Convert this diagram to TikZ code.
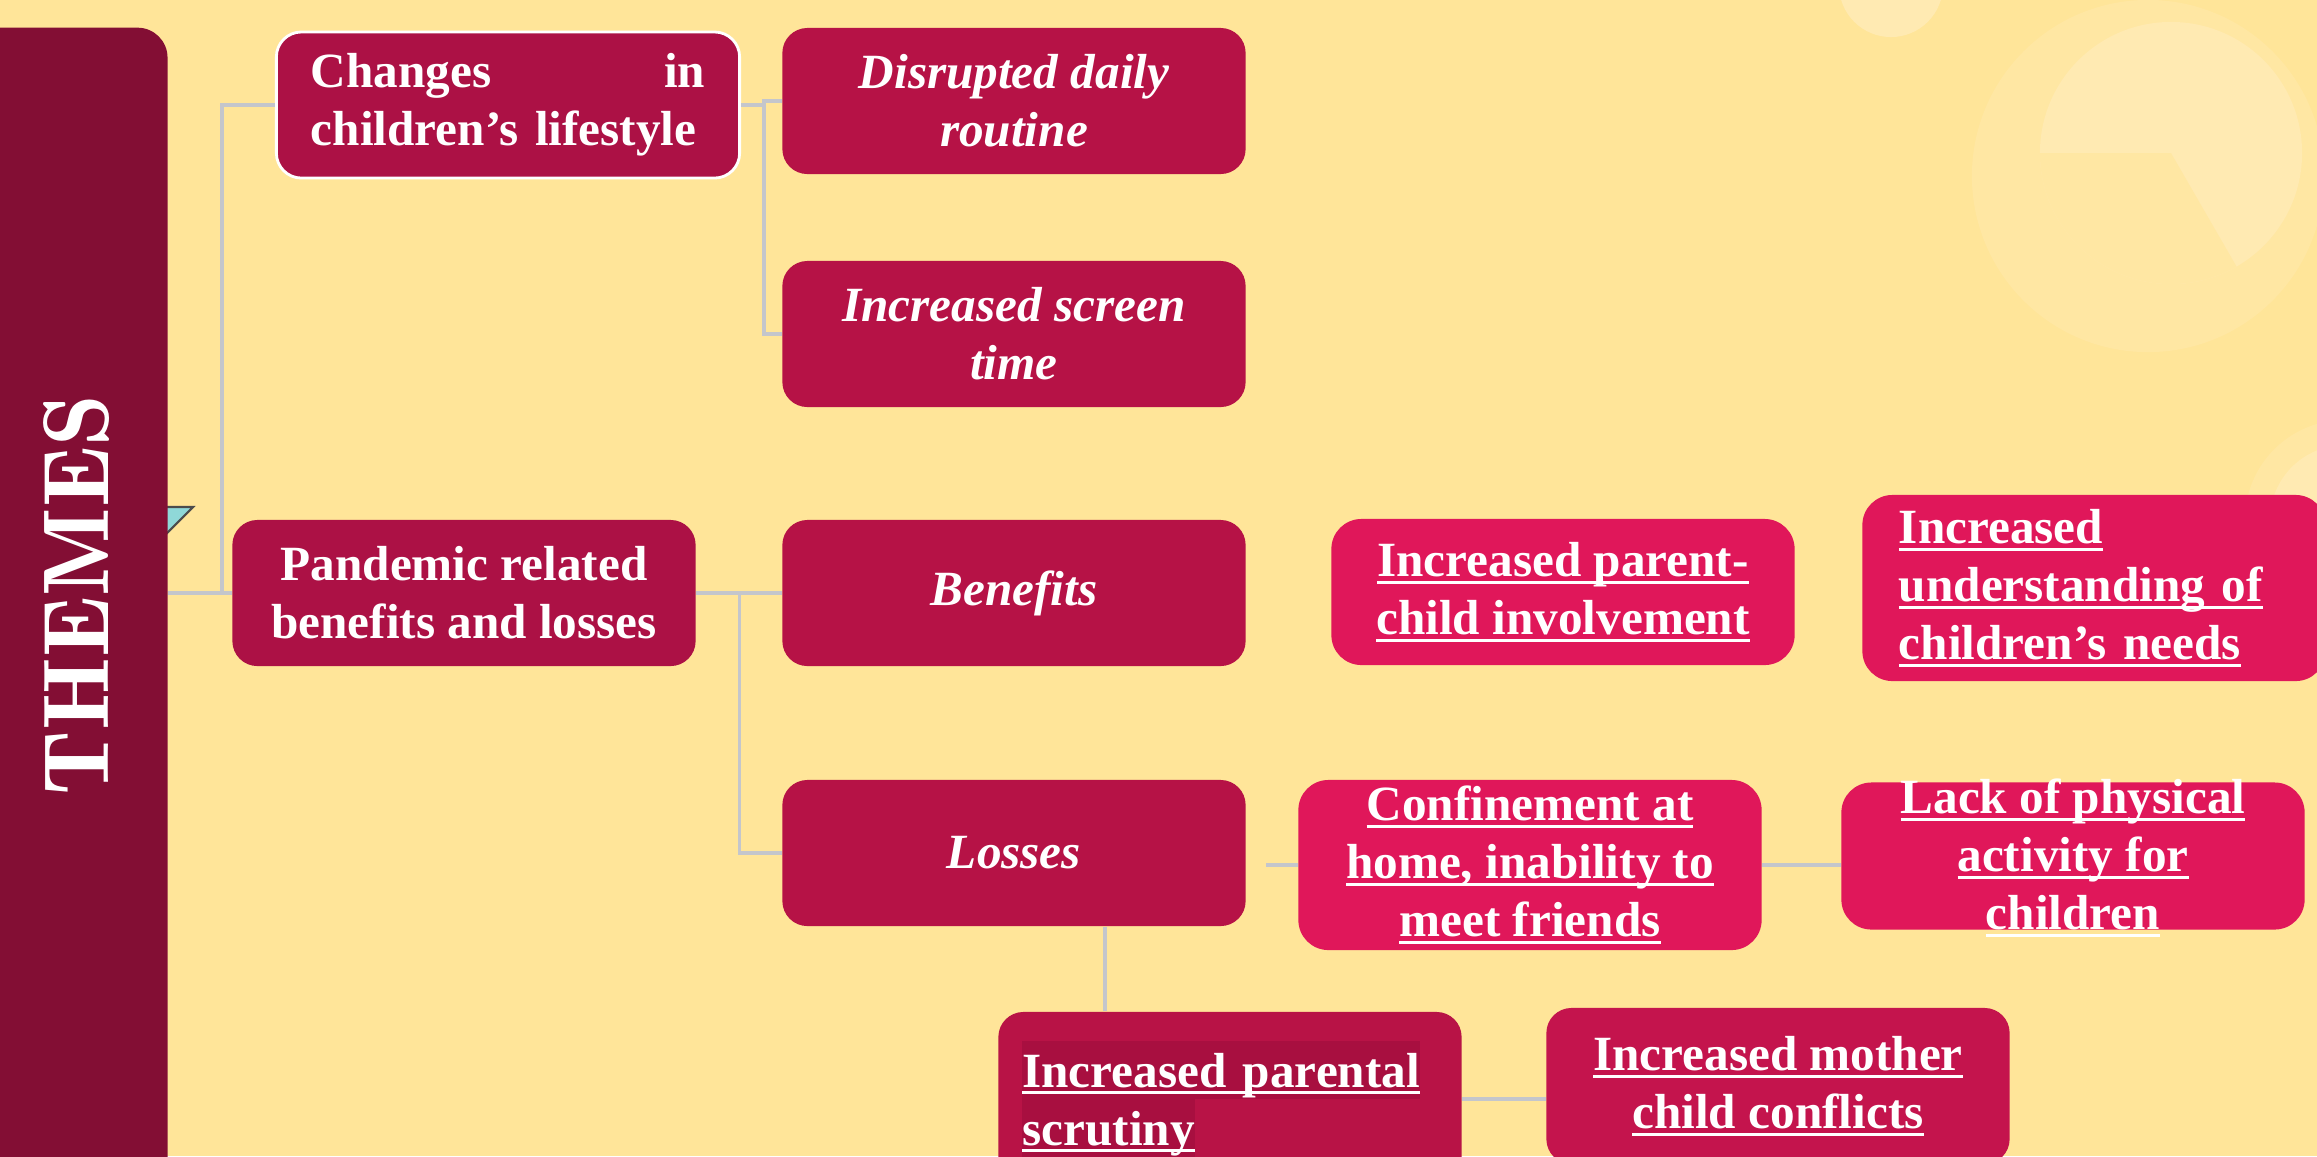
\documentclass[tikz,border=0pt]{standalone}
\usepackage{fontspec}
\setmainfont{Liberation Serif}

\definecolor{bgyellow}{RGB}{255,229,153}
\definecolor{ringouter}{RGB}{255,231,163}
\definecolor{ringinner}{RGB}{255,234,178}
\definecolor{barmaroon}{RGB}{131,14,52}
\definecolor{themered}{RGB}{172,17,69}
\definecolor{subred}{RGB}{182,18,70}
\definecolor{leafpink}{RGB}{224,23,90}
\definecolor{scrutred}{RGB}{184,19,70}
\definecolor{scrutdark}{RGB}{168,15,64}
\definecolor{motherred}{RGB}{196,20,77}
\definecolor{linkgray}{RGB}{196,198,204}
\definecolor{tealtri}{RGB}{143,216,216}

\newcommand{\boxfont}{\fontsize{14}{16.5}\selectfont\bfseries}
\newcommand{\titlefont}{\fontfamily{lmr}\fontseries{b}\fontsize{26.5}{30}\selectfont}
\newcommand{\undl}[1]{\leavevmode\setbox0\hbox{#1}\rlap{\rule[-0.07cm]{\wd0}{0.03cm}}\box0}
\newcommand{\hlt}[1]{\leavevmode{\setlength{\fboxsep}{0pt}\colorbox{scrutdark}{\rule[-0.115cm]{0pt}{0.575cm}#1}}}

\begin{document}
\begin{tikzpicture}[x=0.01cm, y=-0.01cm,
		box/.style={rectangle, rounded corners=0.25cm, inner sep=0pt,
			minimum width=4.63cm, minimum height=1.46cm,
			text=white, font=\boxfont, align=center},
		theme/.style={box, fill=themered},
		sub/.style={box, fill=subred, font=\boxfont\itshape},
		leaf/.style={box, fill=leafpink, rounded corners=0.3cm},
		link/.style={draw=linkgray, line width=0.9pt},
	]
	\useasboundingbox (0,0) rectangle (2317,1156);
	\clip (0,0) rectangle (2317,1156);
	\fill[bgyellow] (0,0) rectangle (2317,1156);
	\fill[ringouter] (2148,176) circle[radius=1.76cm];
	\fill[ringinner] (2171,153) circle[radius=1.31cm];
	\fill[ringouter] (2171,153) -- ++(180:1.31cm) arc[start angle=180, end angle=300, radius=1.31cm] -- cycle;
	\fill[ringinner] (1891,-15) circle[radius=0.52cm];
	\fill[ringouter] (2345,520) circle[radius=1cm];
	\fill[ringinner] (2345,520) circle[radius=0.75cm];
	\filldraw[fill=tealtri, draw=black!70, line width=0.6pt] (140,507) -- (193,507) -- (140,560) -- cycle;

	\node[fill=barmaroon, rounded corners=0.3cm, inner sep=0pt, minimum width=1.97cm, minimum height=11.72cm] (themes) at (69,614) {};
	\node[rotate=90, text=white, font=\titlefont] (themes-title) at (77,595) {THEMES};

	\node[theme, draw=white, line width=0.8pt, text width=3.94cm, align=left] (chg) at (508,105) {Changes\hfill in\\children’s lifestyle};
	\node[sub] (dis) at (1014,101) {Disrupted daily\\routine};
	\node[sub] (scr) at (1014,334) {Increased screen\\time};
	\node[theme] (pand) at (464,593) {Pandemic related\\benefits and losses};
	\node[sub] (ben) at (1014,593) {Benefits};
	\node[sub] (los) at (1014,853) {Losses};
	\node[leaf] (par) at (1563,592) {\undl{Increased parent-}\\\undl{child involvement}};
	\node[leaf, minimum height=1.86cm, text width=3.9cm, align=left] (und) at (2094,588) {\undl{Increased}\\\undl{understanding of}\\\undl{children’s needs}};
	\node[leaf, minimum height=1.7cm] (conf) at (1530,865) {\undl{Confinement at}\\\undl{home, inability to}\\\undl{meet friends}};
	\node[leaf, text height=1.47cm, text depth=0cm] (lack) at (2073,856) {\undl{Lack of physical}\\\undl{activity for}\\\undl{children}};
	\node[box, fill=scrutred, minimum height=1.74cm, text width=4.15cm, align=left] (scrut) at (1230,1099) {\hlt{\undl{Increased parental}}\\\hlt{\undl{scrutiny}}};
	\node[box, fill=motherred, minimum height=1.56cm] (moth) at (1778,1086) {\undl{Increased mother}\\\undl{child conflicts}};

	\coordinate (j1) at (222,593);
	\draw[link] (themes.east |- pand.west) -- (pand.west);
	\draw[link] (j1) |- (chg.west);
	\draw[link] (chg.east) -- ++(23,0) coordinate (j2);
	\draw[link] (j2) |- (dis.west);
	\draw[link] (j2) |- (scr.west);
	\draw[link] (pand.east) -- ++(43,0) coordinate (j3);
	\draw[link] (j3) |- (ben.west);
	\draw[link] (j3) |- (los.west);
	\draw[link] ([xshift=0.2cm]los.east |- conf.west) -- (conf.west);
	\draw[link] (conf.east) -- (conf.east -| lack.west);
	\coordinate (j4) at ([xshift=0.91cm]los.south);
	\draw[link] (j4) -- (j4 |- scrut.north);
	\draw[link] (scrut.east) -- (scrut.east -| moth.west);
\end{tikzpicture}
\end{document}
